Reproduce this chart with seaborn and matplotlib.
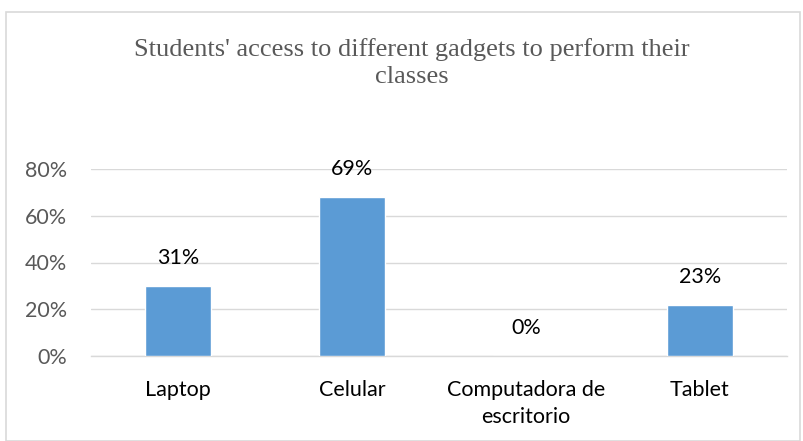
import matplotlib.pyplot as plt
import matplotlib.ticker as ticker
from matplotlib.patches import Rectangle
import pandas as pd
import seaborn as sns

# Data
categories = ["Laptop", "Celular", "Computadora de\nescritorio", "Tablet"]
shares = [0.30, 0.68, 0.0, 0.22]
bar_labels = ["31%", "69%", "0%", "23%"]

BAR_COLOR = "#5B9BD5"
GRID_COLOR = "#D9D9D9"
TEXT_GREY = "#595959"

sns.set_theme(style="white")
plt.rcParams["font.family"] = ["Lato", "DejaVu Sans"]

df = pd.DataFrame({"category": categories, "share": shares})

fig = plt.figure(figsize=(8.04, 4.41), dpi=100)
ax = fig.add_axes([91 / 804, 85 / 441, 696 / 804, 187 / 441])

sns.barplot(data=df, x="category", y="share", color=BAR_COLOR,
            width=0.38, saturation=1, ax=ax, zorder=3)

ax.set_ylim(0, 0.8)
ax.set_xlim(-0.5, len(categories) - 0.5)
ax.yaxis.set_major_locator(ticker.MultipleLocator(0.2))
ax.yaxis.set_major_formatter(ticker.PercentFormatter(1.0, decimals=0))
ax.grid(axis="y", color=GRID_COLOR, linewidth=1, zorder=0)
ax.set_axisbelow(True)

for side in ["top", "right", "left"]:
    ax.spines[side].set_visible(False)
ax.spines["bottom"].set_color(GRID_COLOR)
ax.spines["bottom"].set_linewidth(1)

# tick marks between categories, labels centred on bars
ax.set_xticks([i - 0.5 for i in range(len(categories) + 1)], minor=False)
ax.set_xticklabels([])
ax.tick_params(axis="x", which="major", length=6, width=1, color=GRID_COLOR, direction="out")
ax.set_xticks(range(len(categories)), minor=True)
ax.set_xticklabels(categories, minor=True, fontsize=15.5, color="black", linespacing=1.45)
ax.tick_params(axis="x", which="minor", length=0, pad=17)
ax.tick_params(axis="y", length=0, labelsize=15.5, labelcolor=TEXT_GREY, pad=17)
ax.set_xlabel("")
ax.set_ylabel("")

for i, (val, lab) in enumerate(zip(shares, bar_labels)):
    ax.annotate(lab, (i, val), xytext=(0, 20), textcoords="offset points",
                ha="center", va="center", fontsize=15.5, color="black")

fig.text(0.512, 1 - 63 / 441, "Students' access to different gadgets to perform their\nclasses",
         ha="center", va="center", fontsize=19, color=TEXT_GREY,
         family=["Liberation Serif", "DejaVu Serif"], linespacing=1.35)

fig.patches.append(Rectangle((6 / 804, 0), 794 / 804, 429 / 441, transform=fig.transFigure,
                             fill=False, edgecolor=GRID_COLOR, linewidth=1.2))

fig.savefig("out.png", dpi=100)
